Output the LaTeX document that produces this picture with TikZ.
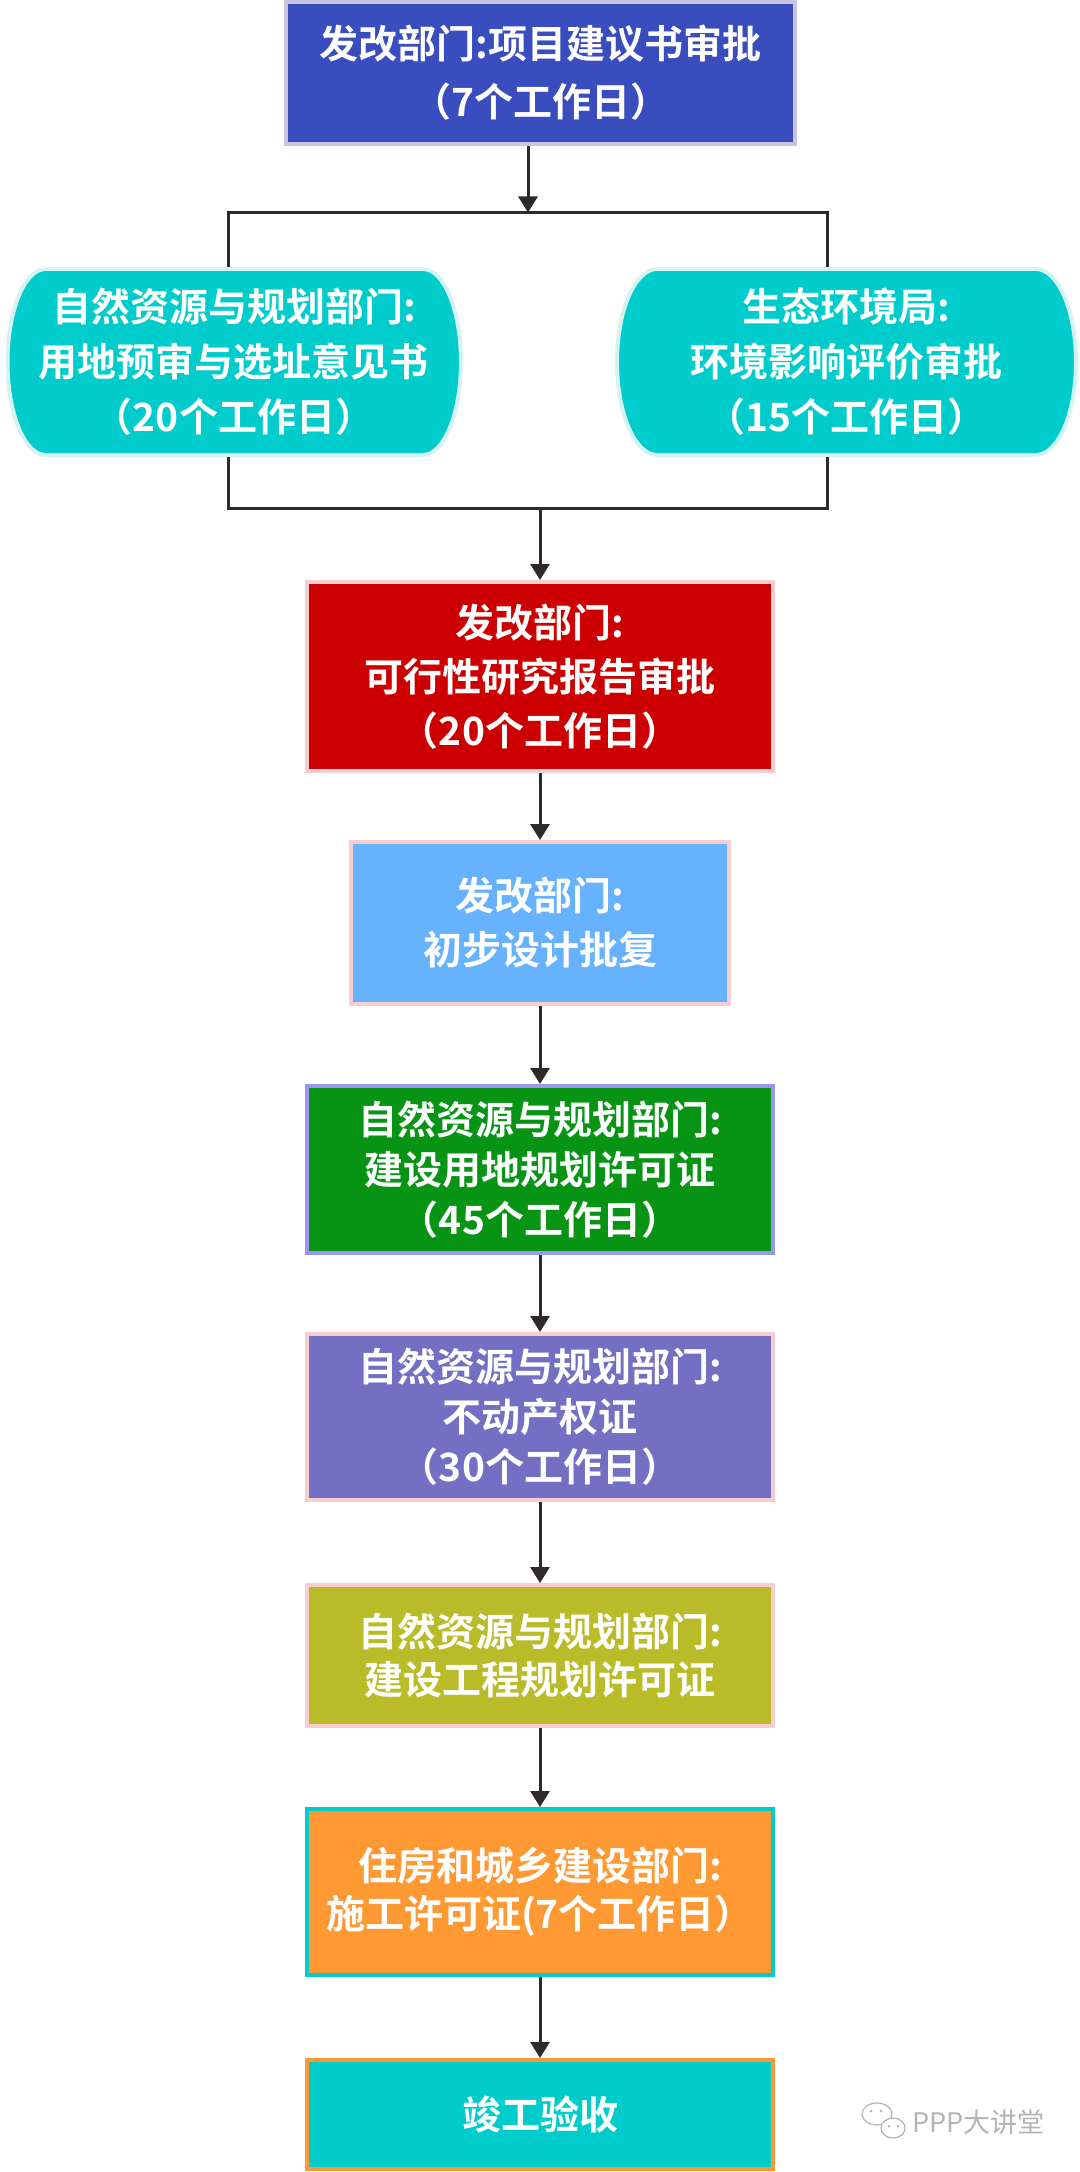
\documentclass[tikz,border=0pt]{standalone}
\usepackage{fontspec}
\newfontfamily\cjk{Noto Sans CJK SC}[BoldFont={Noto Sans CJK SC Bold}]
\usetikzlibrary{arrows.meta}

\definecolor{xmblue}{HTML}{3A4DBE}
\definecolor{xmline}{HTML}{C9C5DF}
\definecolor{qing}{HTML}{00CCCC}
\definecolor{qingline}{HTML}{D6F3F3}
\definecolor{kyred}{HTML}{CC0000}
\definecolor{pinkline}{HTML}{F8CDCF}
\definecolor{sjblue}{HTML}{66B2FF}
\definecolor{ydgreen}{HTML}{079314}
\definecolor{ydline}{HTML}{9A96F2}
\definecolor{bdpurple}{HTML}{7370C3}
\definecolor{gcolive}{HTML}{B9BB29}
\definecolor{sgorange}{HTML}{FF9933}
\definecolor{linkgray}{HTML}{2E2A2A}
\definecolor{wmgray}{HTML}{B4B4B4}

\tikzset{
  box/.style={rectangle, draw, line width=2pt, text=white, align=center, inner sep=0pt},
  lines/.style={font=\cjk\bfseries\fontsize{19.5pt}{#1}\selectfont},
  link/.style={draw=linkgray, line width=1.5pt},
  arr/.style={link, -{Triangle[length=8pt,width=9.5pt]}},
}

\begin{document}
\begin{tikzpicture}[x=0.5pt,y=-0.5pt]
  \useasboundingbox (0,0) rectangle (1080,2172);

  \node[box, fill=xmblue, draw=xmline, minimum width=254.5pt, minimum height=71pt, lines=29pt] (xmjy) at (540.5,73) {发改部门:项目建议书审批\\（7个工作日）};

  % two rounded side boxes
  \draw[line width=2pt, draw=qingline, fill=qing] (45.5,269) -- (423,269) arc[start angle=-90, end angle=90, x radius=38, y radius=93] -- (45.5,455) arc[start angle=90, end angle=270, x radius=38, y radius=93] -- cycle;
  \draw[line width=2pt, draw=qingline, fill=qing] (657,269) -- (1036,269) arc[start angle=-90, end angle=90, x radius=40, y radius=93] -- (657,455) arc[start angle=90, end angle=270, x radius=40, y radius=93] -- cycle;
  \node[box, draw=none, minimum width=226.75pt, minimum height=93pt, lines=27.5pt] (ydys) at (234,362) {自然资源与规划部门:\\用地预审与选址意见书\\（20个工作日）};
  \node[box, draw=none, minimum width=229.5pt, minimum height=93pt, lines=27.5pt] (hjpj) at (846.5,362) {生态环境局:\\环境影响评价审批\\（15个工作日）};

  \node[box, fill=kyred, draw=pinkline, minimum width=233pt, minimum height=94.5pt, lines=27pt] (kybg) at (540,676.5) {发改部门:\\可行性研究报告审批\\（20个工作日）};
  \node[box, fill=sjblue, draw=pinkline, minimum width=189pt, minimum height=81pt, lines=27pt] (cbsj) at (540,923) {发改部门:\\初步设计批复};
  \node[box, fill=ydgreen, draw=ydline, minimum width=233pt, minimum height=83.5pt, lines=25pt] (ydgh) at (540,1169.5) {自然资源与规划部门:\\建设用地规划许可证\\（45个工作日）};
  \node[box, fill=bdpurple, draw=pinkline, minimum width=233pt, minimum height=83pt, lines=25pt] (bdc) at (540,1417) {自然资源与规划部门:\\不动产权证\\（30个工作日）};
  \node[box, fill=gcolive, draw=pinkline, minimum width=233pt, minimum height=70.5pt, lines=24pt] (gcgh) at (540,1655.5) {自然资源与规划部门:\\建设工程规划许可证};
  \node[box, fill=sgorange, draw=qing, minimum width=233pt, minimum height=83pt, lines=24pt] (sgxk) at (540,1892) {住房和城乡建设部门:\\施工许可证(7个工作日）};
  \node[box, fill=qing, draw=sgorange, minimum width=233pt, minimum height=54.5pt, lines=24pt] (jgys) at (540,2114.5) {竣工验收};

  \coordinate (fen) at (528,212.5);
  \coordinate (fenL) at (228,212.5);
  \coordinate (fenR) at (827,212.5);
  \coordinate (he) at (540,508);

  \draw[arr] (xmjy.south -| fen) -- (fen);
  \draw[link] (ydys.north -| fenL) -- (fenL) -- (fenR) -- (hjpj.north -| fenR);
  \draw[link] (ydys.south -| fenL) -- (fenL |- he) -- (fenR |- he) -- (hjpj.south -| fenR);
  \draw[arr] (he) -- (kybg.north);
  \draw[arr] (kybg) -- (cbsj);
  \draw[arr] (cbsj) -- (ydgh);
  \draw[arr] (ydgh) -- (bdc);
  \draw[arr] (bdc) -- (gcgh);
  \draw[arr] (gcgh) -- (sgxk);
  \draw[arr] (sgxk) -- (jgys);

  % watermark
  \draw[wmgray, line width=0.6pt, fill=white] (877,2114) ellipse[x radius=15, y radius=11];
  \draw[wmgray, line width=0.6pt, fill=white] (893,2128) ellipse[x radius=12, y radius=10];
  \fill[wmgray] (871,2111) circle[radius=1.5] (881,2111) circle[radius=1.5] (889,2126) circle[radius=1.5] (898,2126) circle[radius=1.5];
  \node[text=wmgray, font=\cjk\fontsize{13.5pt}{14pt}\selectfont, anchor=west, inner sep=0pt] (wm) at (912,2122) {PPP大讲堂};
\end{tikzpicture}
\end{document}
